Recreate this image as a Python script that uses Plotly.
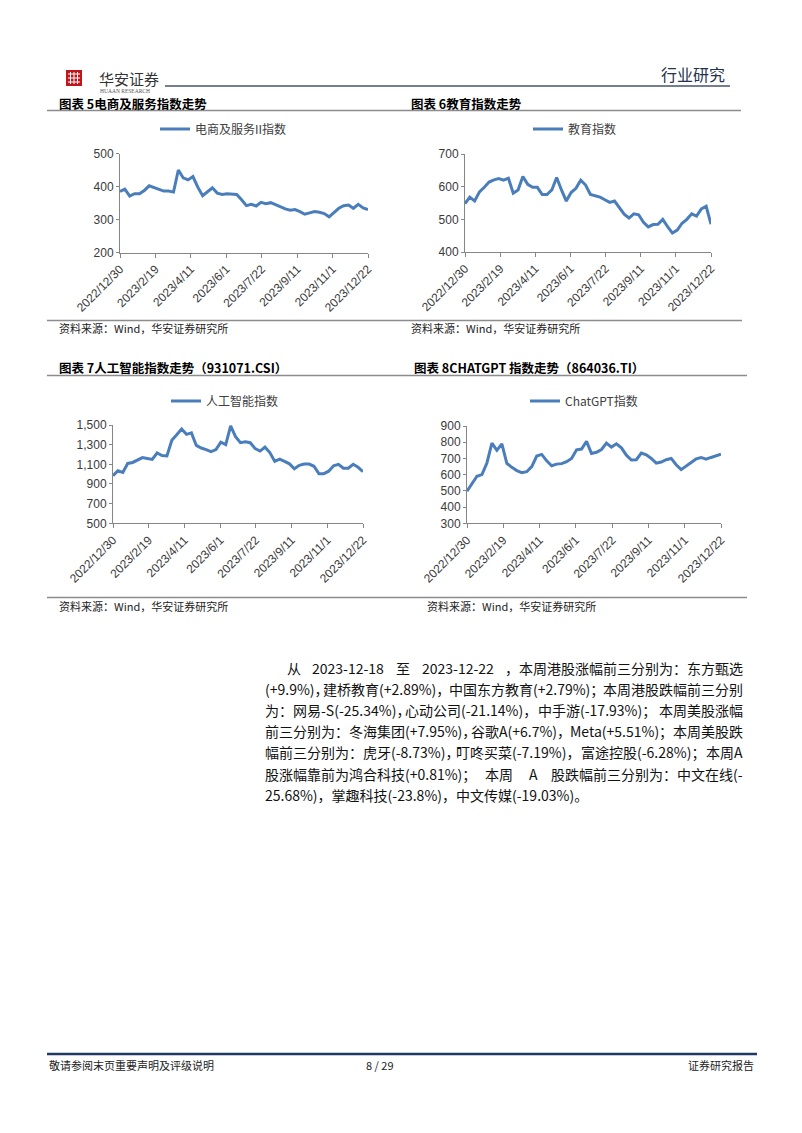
import pandas as pd
import plotly.graph_objects as go

# page is 802x1133; the html body adds an 8px margin, so the figure is
# drawn 8px in from the page corner and page coordinates are shifted.
PAGE_OFF = 8
FW, FH = 786, 1117

# ---------------- data (weekly readings, Fridays) ----------------
dates = pd.date_range("2022-12-30", "2023-12-22", freq="7D")

ecom = [385, 392, 371, 378, 378, 388, 402, 396, 392, 386, 386, 383, 450, 426, 420, 430,
        398, 372, 384, 396, 380, 376, 378, 378, 376, 360, 342, 346, 341, 352, 348, 351,
        344, 338, 332, 328, 330, 324, 316, 320, 324, 322, 318, 308, 322, 334, 342, 344,
        334, 346, 335, 330]

edu = [548, 568, 556, 584, 598, 614, 621, 625, 620, 626, 580, 590, 631, 607, 598, 598,
       576, 576, 590, 628, 590, 556, 582, 595, 620, 605, 576, 572, 568, 560, 552, 556,
       535, 516, 504, 517, 514, 491, 477, 484, 485, 500, 478, 458, 467, 488, 500, 517,
       510, 532, 540, 485]

ai = [984, 1035, 1018, 1109, 1119, 1142, 1169, 1160, 1150, 1215, 1190, 1186, 1345, 1400,
      1460, 1405, 1420, 1292, 1266, 1250, 1230, 1250, 1325, 1300, 1490, 1380, 1320, 1330,
      1320, 1260, 1235, 1275, 1220, 1130, 1153, 1130, 1105, 1055, 1090, 1102, 1102, 1080,
      1005, 1005, 1030, 1085, 1100, 1060, 1060, 1100, 1070, 1025]

gpt = [498, 545, 590, 600, 672, 795, 750, 790, 670, 645, 625, 612, 618, 650, 715, 725,
       685, 655, 665, 668, 680, 700, 753, 758, 805, 730, 738, 755, 795, 770, 790, 765,
       720, 690, 692, 733, 722, 700, 671, 678, 692, 700, 661, 631, 652, 678, 697, 706,
       695, 706, 714, 726]

tick_dates = ["2022-12-30", "2023-02-19", "2023-04-11", "2023-06-01",
              "2023-07-22", "2023-09-11", "2023-11-01", "2023-12-22"]
tick_text = ["2022/12/30", "2023/2/19", "2023/4/11", "2023/6/1",
             "2023/7/22", "2023/9/11", "2023/11/1", "2023/12/22"]

names = ["电商及服务II指数", "教育指数", "人工智能指数", "ChatGPT指数"]
series = [ecom, edu, ai, gpt]
yranges = [(200, 500, 100), (400, 700, 100), (500, 1500, 200), (300, 900, 100)]

# paragraph, one list of word groups per printed line
body_lines = [
    ["从", "2023-12-18", "至", "2023-12-22", "，本周港股涨幅前三分别为：东方甄选"],
    ["(+9.9%)，", "建桥教育(+2.89%)，", "中国东方教育(+2.79%)；", "本周港股跌幅前三分别"],
    ["为：网易-S(-25.34%)，", "心动公司(-21.14%)，", "中手游(-17.93%)；", "本周美股涨幅"],
    ["前三分别为：冬海集团(+7.95%)，", "谷歌A(+6.7%)，", "Meta(+5.51%)；", "本周美股跌"],
    ["幅前三分别为：虎牙(-8.73%)，", "叮咚买菜(-7.19%)，", "富途控股(-6.28%)；", "本周A"],
    ["股涨幅靠前为鸿合科技(+0.81%)；", "本周", "A", "股跌幅前三分别为：中文在线(-"],
    ["25.68%)，掌趣科技(-23.8%)，中文传媒(-19.03%)。"],
]

# ---------------- layout helpers ----------------
def px(x):
    return (x - PAGE_OFF) / FW

def py(y):
    return 1 - (y - PAGE_OFF) / FH

LINE = "#4A7EBB"
AX = "#868686"
CJK = "Noto Sans CJK SC"
LAT = "Liberation Sans, Arial"

# plot areas in page pixels: (x0, x1, ytop, ybottom)
areas = [(120, 368, 153.5, 252.5), (465, 711, 154, 252),
         (113, 363, 425, 523.3), (467, 721, 426, 523.3)]
# legend left edges (page px) and centre y
legend_pos = [(155, 129), (528, 129), (166, 401), (525, 401)]

fig = go.Figure()
layout = dict(width=FW, height=FH,
              margin=dict(l=0, r=0, t=0, b=0, autoexpand=False),
              paper_bgcolor="white", plot_bgcolor="white", showlegend=True)

for i in range(4):
    k = "" if i == 0 else str(i + 1)
    lg = "legend" if i == 0 else "legend" + str(i + 1)
    fig.add_trace(go.Scatter(x=dates, y=series[i], mode="lines", name=names[i],
                             line=dict(color=LINE, width=3),
                             xaxis="x" + k, yaxis="y" + k, legend=lg,
                             hoverinfo="skip"))
    x0, x1, yt, yb = areas[i]
    lo, hi, dt = yranges[i]
    layout["xaxis" + k] = dict(
        domain=[px(x0), px(x1)], anchor="y" + k, type="date", automargin=False,
        range=["2022-12-30", "2023-12-22"], tickmode="array",
        tickvals=tick_dates, ticktext=tick_text, tickangle=-45,
        showline=True, linecolor=AX, linewidth=1, ticks="outside",
        ticklen=4, tickcolor=AX, showgrid=False, zeroline=False,
        tickfont=dict(family=LAT, size=12, color="#3A3A3A"))
    layout["yaxis" + k] = dict(
        domain=[py(yb), py(yt)], anchor="x" + k, range=[lo, hi], dtick=dt,
        tick0=lo, tickformat=",d", showline=True, linecolor=AX, linewidth=1,
        automargin=False, ticks="outside", ticklen=3, tickcolor=AX,
        showgrid=False, zeroline=False,
        tickfont=dict(family=LAT, size=12, color="#3A3A3A"))
    lx, ly = legend_pos[i]
    layout[lg] = dict(x=px(lx), y=py(ly), xanchor="left", yanchor="middle",
                      bgcolor="rgba(0,0,0,0)", itemwidth=30, borderwidth=0,
                      font=dict(family=CJK, size=12, color="#404040"))

fig.update_layout(**layout)

# ---------------- page decoration ----------------
shapes = []
def hline(x0, x1, y, color, w):
    shapes.append(dict(type="line", xref="paper", yref="paper",
                       x0=px(x0), x1=px(x1), y0=py(y), y1=py(y),
                       line=dict(color=color, width=w)))

hline(165, 730, 86, "#44546A", 1.3)      # header rule
hline(47, 741, 110.5, "#8C8C8C", 1.3)    # under headings 5/6
hline(47, 742, 320.5, "#8C8C8C", 1.3)    # under sources 5/6
hline(47, 747, 375.5, "#8C8C8C", 1.3)    # under headings 7/8
hline(47, 747, 597.5, "#8C8C8C", 1.3)    # under sources 7/8
hline(47, 757, 1054, "#1F3864", 2.5)     # footer rule

# logo
shapes.append(dict(type="rect", xref="paper", yref="paper",
                   x0=px(66), x1=px(82), y0=py(86), y1=py(70),
                   fillcolor="#C0161C", line=dict(width=0)))
for (a, b, c, d) in [(68, 80, 74, 74), (68, 80, 78, 78), (68, 80, 82, 82),
                     (70.5, 70.5, 72, 84), (74, 74, 72, 84), (77.5, 77.5, 72, 84)]:
    shapes.append(dict(type="line", xref="paper", yref="paper",
                       x0=px(a), x1=px(b), y0=py(c), y1=py(d),
                       line=dict(color="white", width=1)))

ann = []
def text(x, y, s, size, color="#000000", family=CJK, anchor="left", bold=False):
    if bold:
        s = "<b>" + s + "</b>"
    ann.append(dict(x=px(x), y=py(y), xref="paper", yref="paper", text=s,
                    showarrow=False, xanchor=anchor, yanchor="middle",
                    font=dict(family=family, size=size, color=color)))

text(97, 78, "华安证券", 15, "#333333")
text(98, 90.5, "HUAAN RESEARCH", 5.5, "#555555", family="Liberation Serif")
text(727, 74, "行业研究", 16, "#24324D", anchor="right")

text(57, 103, "图表 5电商及服务指数走势", 12.5, bold=True)
text(409, 103, "图表 6教育指数走势", 12.5, bold=True)
text(57, 367, "图表 7人工智能指数走势（931071.CSI）", 12.5, bold=True)
text(412, 367, "图表 8CHATGPT 指数走势（864036.TI）", 12.5, bold=True)

src = "资料来源：Wind，华安证券研究所"
text(57, 328, src, 11, "#222222")
text(409, 328, src, 11, "#222222")
text(57, 606, src, 11, "#222222")
text(425, 606, src, 11, "#222222")

# ---------------- justified paragraph ----------------
BODY_SIZE = 14
GLYPH_W = {"(": .30, ")": .30, "%": .82, "+": .50, "-": .31, ".": .25,
           "A": .55, "S": .52, "M": .75, "e": .50, "t": .33, "a": .49}

def est_width(s):
    w = 0.0
    for c in s:
        if c.isdigit():
            w += .50
        elif c in GLYPH_W:
            w += GLYPH_W[c]
        elif ord(c) > 0x2E80:
            w += 1.0
        else:
            w += .55
    return w * BODY_SIZE

LEFT, RIGHT = 263, 745
for j, segs in enumerate(body_lines):
    yy = 668 + j * 21.1
    start = 285 if j == 0 else LEFT
    if len(segs) == 1:
        text(start, yy, segs[0], BODY_SIZE, "#111111")
        continue
    widths = [est_width(s) for s in segs]
    extra = (RIGHT - start - sum(widths)) / (len(segs) - 1)
    pos = start
    for n, (s, w) in enumerate(zip(segs, widths)):
        if n == 0:
            text(pos, yy, s, BODY_SIZE, "#111111", anchor="left")
        elif n == len(segs) - 1:
            text(RIGHT, yy, s, BODY_SIZE, "#111111", anchor="right")
        else:
            text(pos + w / 2, yy, s, BODY_SIZE, "#111111", anchor="center")
        pos += w + extra

text(47, 1065, "敬请参阅末页重要声明及评级说明", 11, "#222222")
text(380, 1065, "8 / 29", 11, "#222222", anchor="center")
text(756, 1065, "证券研究报告", 11, "#222222", anchor="right")

fig.update_layout(shapes=shapes, annotations=ann)
fig.write_html("out.html")
